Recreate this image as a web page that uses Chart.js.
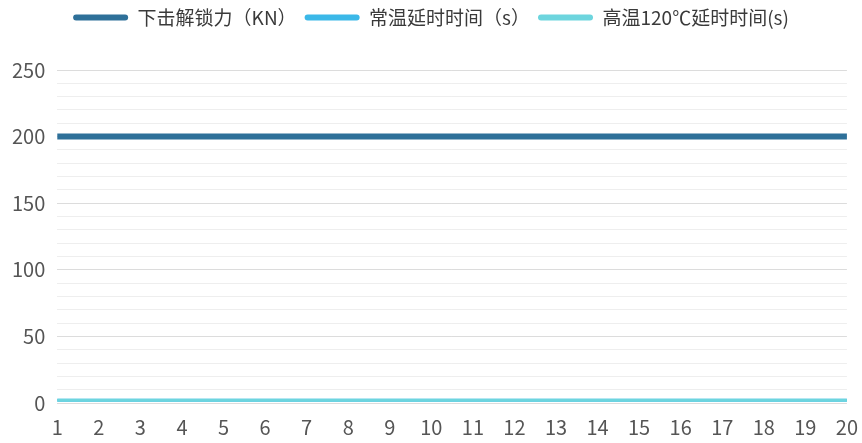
<!DOCTYPE html>
<html><head><meta charset="utf-8">
<script src="https://cdn.jsdelivr.net/npm/chart.js@4/dist/chart.umd.min.js"></script>
<style>html,body{margin:0;padding:0;background:#fff}#wrap{width:862px;height:443px}</style>
</head><body><div id="wrap"><canvas id="c" width="862" height="443"></canvas></div>
<script>
const categories = ['1','2','3','4','5','6','7','8','9','10','11','12','13','14','15','16','17','18','19','20'];
const unlockForce = [200,200,200,200,200,200,200,200,200,200,200,200,200,200,200,200,200,200,200,200];
const roomTempDelay = [2,2,2,2,2,2,2,2,2,2,2,2,2,2,2,2,2,2,2,2];
const highTempDelay = [2,2,2,2,2,2,2,2,2,2,2,2,2,2,2,2,2,2,2,2];
const seriesNames = ['下击解锁力（KN）','常温延时时间（s）','高温120℃延时时间(s)'];

const FONT = '"Noto Sans CJK SC", "Noto Sans", sans-serif';
const legendMargin = {
  id: 'legendMargin',
  beforeInit(chart) {
    const orig = chart.legend.fit;
    chart.legend.fit = function () { orig.bind(chart.legend)(); this.height += 33; };
  }
};
new Chart(document.getElementById('c'), {
  type: 'line',
  data: {
    labels: categories,
    datasets: [
      {label: seriesNames[0], data: unlockForce, borderColor: '#2e7099', backgroundColor: '#2e7099', borderWidth: 6, pointRadius: 0, order: 3},
      {label: seriesNames[1], data: roomTempDelay, borderColor: '#3bb8e8', backgroundColor: '#3bb8e8', borderWidth: 3, pointRadius: 0, order: 2},
      {label: seriesNames[2], data: highTempDelay, borderColor: '#6dd5de', backgroundColor: '#6dd5de', borderWidth: 3, pointRadius: 0, order: 1}
    ]
  },
  plugins: [legendMargin],
  options: {
    responsive: false,
    animation: false,
    layout: {padding: {left: 0, right: 0, top: 0, bottom: 0}},
    plugins: {
      tooltip: {enabled: false},
      legend: {
        position: 'top',
        labels: {
          boxWidth: 55, boxHeight: 6, useBorderRadius: true, borderRadius: 3,
          padding: 8, color: '#3a3a3a',
          font: {family: FONT, size: 19},
          sort: (a, b) => a.datasetIndex - b.datasetIndex,
          generateLabels: chart => Chart.defaults.plugins.legend.labels.generateLabels(chart).map(l => Object.assign(l, {lineWidth: 0}))
        }
      }
    },
    scales: {
      x: {
        offset: false,
        grid: {display: false},
        border: {display: false},
        ticks: {color: '#555', font: {family: FONT, size: 20}, padding: 4, maxRotation: 0, autoSkip: false}
      },
      y: {
        min: 0, max: 250,
        border: {display: false},
        grid: {
          drawTicks: false,
          color: ctx => (ctx.tick && ctx.tick.value % 50 === 0) ? '#dcdcdc' : '#eeeeee',
          lineWidth: 1
        },
        ticks: {
          stepSize: 10, autoSkip: false,
          color: '#555', font: {family: FONT, size: 20}, padding: 12,
          callback: v => (v % 50 === 0 ? String(v) : '')
        }
      }
    }
  }
});
</script></body></html>
